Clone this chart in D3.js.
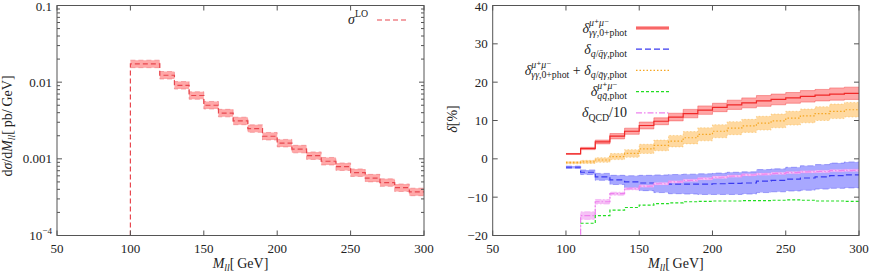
<!DOCTYPE html>
<meta charset="utf-8">
<style>
body { margin: 0; background: #fff; }
text { font-family: 'Liberation Serif', 'DejaVu Serif', serif; fill: #222; white-space: pre; }
.frame { fill: none; stroke: #555; stroke-width: 1; }
.tick { stroke: #555; stroke-width: 1; }
</style>
<body>
<svg id="chart" width="869" height="273"></svg>
<script src="https://d3js.org/d3.v7.min.js"></script>
<script>
// bins of M_ll (lower edges), 10 GeV wide
const binStart = [100, 110, 120, 130, 140, 150, 160, 170, 180, 190, 200, 210, 220, 230, 240, 250, 260, 270, 280, 290];
const binWidth = 10;

// left: LO cross section [pb/GeV] and relative band
const sigmaLO    = [0.0173, 0.0173, 0.0123, 0.0091, 0.0067, 0.0050, 0.00395, 0.00312, 0.00248, 0.00197,
                    0.00160, 0.00134, 0.00110, 0.00093, 0.00079, 0.00066, 0.00056, 0.00049, 0.00042, 0.00037];
const sigmaLOErr = [0.12, 0.12, 0.12, 0.12, 0.12, 0.12, 0.12, 0.12, 0.12, 0.12,
                    0.12, 0.12, 0.12, 0.12, 0.12, 0.12, 0.12, 0.12, 0.12, 0.12];

// right: relative corrections [%]
const dGamma    = [1.3, 2.7, 4.4, 5.9, 7.2, 8.7, 9.8, 10.9, 11.8, 12.7, 13.4, 14.1, 14.6, 15.1, 15.5, 15.9, 16.3, 16.6, 16.9, 17.1];
const dGammaErr = [0.1, 0.3, 0.5, 0.7, 0.8, 0.9, 0.9, 1.0, 1.1, 1.1, 1.1, 1.2, 1.3, 1.4, 1.4, 1.4, 1.5, 1.5, 1.6, 1.6];
const dQGamma    = [-2.2, -3.5, -4.7, -5.5, -6.0, -6.3, -6.5, -6.6, -6.6, -6.6, -6.5, -6.4, -6.3, -5.8, -5.6, -5.3, -5.0, -4.7, -4.4, -4.2];
const dQGammaErr = [0.3, 0.6, 0.9, 1.2, 1.6, 2.0, 2.3, 2.5, 2.6, 2.7, 2.8, 2.9, 2.9, 3.0, 3.0, 3.1, 3.2, 3.2, 3.3, 3.4];
const dSum    = [-1.0, -0.8, -0.3, 0.6, 1.4, 2.6, 3.5, 4.6, 5.5, 6.4, 7.2, 8.0, 8.6, 9.3, 9.9, 10.6, 11.2, 11.8, 12.4, 12.8];
const dSumErr = [0.3, 0.4, 0.6, 0.8, 1.0, 1.2, 1.4, 1.5, 1.6, 1.7, 1.7, 1.7, 1.7, 1.8, 1.8, 1.8, 1.8, 1.8, 1.9, 1.9];
const dQQ     = [null, -16.8, -14.8, -13.4, -12.7, -12.1, -11.7, -11.5, -11.2, -11.1, -11.0, -11.0, -10.9, -10.9, -10.8, -10.7, -10.8, -11.0, -11.0, -11.1];
const dQCD    = [-25, -14.8, -11.2, -9.1, -7.8, -7.1, -6.5, -6.0, -5.6, -5.2, -4.8, -4.5, -4.2, -4.0, -3.8, -3.6, -3.4, -3.3, -3.1, -3.0];
const dQCDErr = [1.0, 1.0, 0.6, 0.4, 0.3, 0.3, 0.3, 0.3, 0.3, 0.3, 0.3, 0.3, 0.3, 0.3, 0.3, 0.3, 0.3, 0.3, 0.3, 0.3];

const xTicks = [50, 100, 150, 200, 250, 300];
const logTicks = [0.1, 0.01, 0.001, 1e-4];
const linTicks = [-20, -10, 0, 10, 20, 30, 40];

const svg = d3.select("#chart");
const yTop = 5.5, yBot = 235.5, fs = 13, fl = 14;

const xL = d3.scaleLinear([50, 300], [57, 424]);
const yL = d3.scaleLog([1e-4, 0.1], [yBot, yTop]);
const xR = d3.scaleLinear([50, 300], [492.7, 859]);
const yR = d3.scaleLinear([-20, 40], [yBot, yTop]);

// TeX-like labels: runs of [text, italic] segments, with optional stacked sup/sub
function put(sel, x, r, size) {
  const t = sel.append("text")
    .attr("x", x).attr("y", (r.dy || 0) * size)
    .attr("font-size", size * (r.f || 1));
  r.seg.forEach(([s, it]) => t.append("tspan").attr("font-style", it ? "italic" : "normal").text(s));
  return x + t.node().getComputedTextLength();
}
function math(sel, runs, size) {
  let x = 0;
  runs.forEach(r => {
    if (r.stack) x = d3.max(r.stack.map(q => put(sel, x, q, size)));
    else x = put(sel, x, r, size);
  });
  return x;
}
const SUP = -0.48, SUB = 0.24, SF = 0.7;
const sup = seg => ({seg, dy: SUP, f: SF});
const sub = seg => ({seg, dy: SUB, f: SF});
const base = seg => ({seg});
const mumu = sup([["μ⁺μ⁻", true]]);
const lblGamma = [base([["δ", true]]), {stack: [mumu, sub([["γγ", true], [",0+phot", false]])]}];
const lblQGamma = [base([["δ", true]]), sub([["q", true], ["/", false], ["q̄γ", true], [",phot", false]])];
const lblSum = lblGamma.concat([base([[" + ", false]])], lblQGamma);
const lblQQ = [base([["δ", true]]), {stack: [mumu, sub([["qq̄", true], [",phot", false]])]}];
const lblQCD = [base([["δ", true]]), sub([["QCD", false]]), base([["/10", false]])];
const lblMll = [base([["M", true]]), sub([["ll", true]]), base([["[\u2009GeV]", false]])];

function stepPts(vals, off) {
  const pts = [];
  vals.forEach((v, k) => {
    if (v == null) return;
    const y = off ? off(v, k) : v;
    pts.push([binStart[k], y], [binStart[k] + binWidth, y]);
  });
  return pts;
}

function panel(x, y, id) {
  const g = svg.append("g");
  svg.append("clipPath").attr("id", id).append("rect")
    .attr("x", x.range()[0]).attr("y", yTop)
    .attr("width", x.range()[1] - x.range()[0]).attr("height", yBot - yTop);
  const plot = g.append("g").attr("clip-path", `url(#${id})`);
  return {g, plot};
}

function drawSeries(plot, x, y, s) {
  const line = d3.line().x(d => x(d[0])).y(d => y(d[1]));
  if (s.err) {
    const lo = stepPts(s.vals, s.lo), hi = stepPts(s.vals, s.hi);
    const area = d3.area().x(d => x(d[0])).y0((d, k) => y(lo[k][1])).y1((d, k) => y(hi[k][1]));
    plot.append("path").attr("d", area(hi)).attr("fill", s.fill).attr("stroke", "none");
    [lo, hi].forEach(p => plot.append("path").attr("d", line(p))
      .attr("fill", "none").attr("stroke", s.color).attr("stroke-width", 0.7)
      .attr("stroke-opacity", 0.55).attr("stroke-dasharray", s.dash || null));
  }
  let pts = stepPts(s.vals);
  if (s.lead != null) pts = [[pts[0][0], s.lead]].concat(pts);
  plot.append("path").attr("d", line(pts))
    .attr("fill", "none").attr("stroke", s.color).attr("stroke-width", 1.2)
    .attr("stroke-dasharray", s.dash || null);
}

function frame(g, x, y, yTicks, yMinor, fmt) {
  const x0 = x.range()[0], x1 = x.range()[1];
  g.append("rect").attr("class", "frame")
    .attr("x", x0).attr("y", yTop).attr("width", x1 - x0).attr("height", yBot - yTop);
  xTicks.forEach(t => {
    g.append("line").attr("class", "tick").attr("x1", x(t)).attr("x2", x(t)).attr("y1", yBot).attr("y2", yBot - 5);
    g.append("line").attr("class", "tick").attr("x1", x(t)).attr("x2", x(t)).attr("y1", yTop).attr("y2", yTop + 5);
    g.append("text").attr("x", x(t)).attr("y", yBot + 17).attr("text-anchor", "middle")
      .attr("font-size", fs).text(t);
  });
  yMinor.forEach(t => {
    g.append("line").attr("class", "tick").attr("x1", x0).attr("x2", x0 + 3).attr("y1", y(t)).attr("y2", y(t));
    g.append("line").attr("class", "tick").attr("x1", x1).attr("x2", x1 - 3).attr("y1", y(t)).attr("y2", y(t));
  });
  yTicks.forEach(t => {
    g.append("line").attr("class", "tick").attr("x1", x0).attr("x2", x0 + 5).attr("y1", y(t)).attr("y2", y(t));
    g.append("line").attr("class", "tick").attr("x1", x1).attr("x2", x1 - 5).attr("y1", y(t)).attr("y2", y(t));
    const lg = g.append("g");
    const w = math(lg, fmt(t), fs);
    lg.attr("transform", `translate(${x0 - 5 - w},${Math.max(y(t) + 4.5, 10.5)})`);
  });
  const xl = g.append("g");
  const w = math(xl, lblMll, fl);
  xl.attr("transform", `translate(${(x0 + x1) / 2 - w / 2},${yBot + 32})`);
}

// ---- left panel
const L = panel(xL, yL, "clipL");
drawSeries(L.plot, xL, yL, {
  vals: sigmaLO, err: true, lead: yL.domain()[0],
  lo: (v, k) => v / (1 + sigmaLOErr[k]), hi: (v, k) => v * (1 + sigmaLOErr[k]),
  color: "#e8474f", fill: "#ffa8a8", dash: "5,3"
});
const minorL = yL.ticks().filter(t => !logTicks.some(m => Math.abs(m - t) / m < 1e-6));
frame(L.g, xL, yL, logTicks, minorL,
  t => t === 1e-4 ? [base([["10", false]]), sup([["−4", false]])] : [base([[String(t), false]])]);
{
  const yl = L.g.append("g");
  const w = math(yl, [base([["d", false], ["σ", true], ["/d", false], ["M", true]]),
    sub([["ll", true]]), base([["[\u2009pb/\u2009GeV]", false]])], fl);
  yl.attr("transform", `translate(12,${126 + w / 2}) rotate(-90)`);
  const lg = L.g.append("g");
  const lw = math(lg, [base([["σ", true]]), sup([["LO", false]])], fl);
  lg.attr("transform", `translate(${368 - lw},24)`);
  L.g.append("line").attr("x1", 377).attr("x2", 408).attr("y1", 20).attr("y2", 20)
    .attr("stroke", "#e8474f").attr("stroke-width", 1.2).attr("stroke-dasharray", "5,3");
}

// ---- right panel
const R = panel(xR, yR, "clipR");
const pm = err => ({lo: (v, k) => v - err[k], hi: (v, k) => v + err[k]});
const series = [
  Object.assign({vals: dQGamma, err: true, color: "#3a3af0", fill: "#a8a8ff", dash: "6,3", label: lblQGamma}, pm(dQGammaErr)),
  Object.assign({vals: dSum, err: true, color: "#f5a623", fill: "#ffd9a0", dash: "1.5,2", label: lblSum}, pm(dSumErr)),
  Object.assign({vals: dQCD, err: true, color: "#ee82ee", fill: "#f6c2f6", dash: "6,2,1.5,2", label: lblQCD}, pm(dQCDErr)),
  Object.assign({vals: dGamma, err: true, color: "#f02828", fill: "#ffa6a6", dash: null, label: lblGamma}, pm(dGammaErr)),
  {vals: dQQ, err: false, color: "#22dd22", dash: "3,2", label: lblQQ}
];
series.forEach(s => drawSeries(R.plot, xR, yR, s));
frame(R.g, xR, yR, linTicks, [], t => [base([[t < 0 ? "−" + Math.abs(t) : String(t), false]])]);
{
  const yl = R.g.append("g");
  const w = math(yl, [base([["δ", true], ["[%]", false]])], fl);
  yl.attr("transform", `translate(457,${119 + w / 2}) rotate(-90)`);
  const order = [series[3], series[0], series[1], series[4], series[2]];
  order.forEach((s, k) => {
    const yy = 28 + 21.2 * k;
    const lg = R.g.append("g");
    const w = math(lg, s.label, fl);
    lg.attr("transform", `translate(${627 - w},${yy + 4.5})`);
    if (k === 0) R.g.append("rect").attr("x", 636).attr("y", yy - 2).attr("width", 33).attr("height", 4).attr("fill", s.fill);
    R.g.append("line").attr("x1", 636).attr("x2", 669).attr("y1", yy).attr("y2", yy)
      .attr("stroke", s.color).attr("stroke-width", 1.2).attr("stroke-dasharray", s.dash);
  });
}
</script>
</body>
